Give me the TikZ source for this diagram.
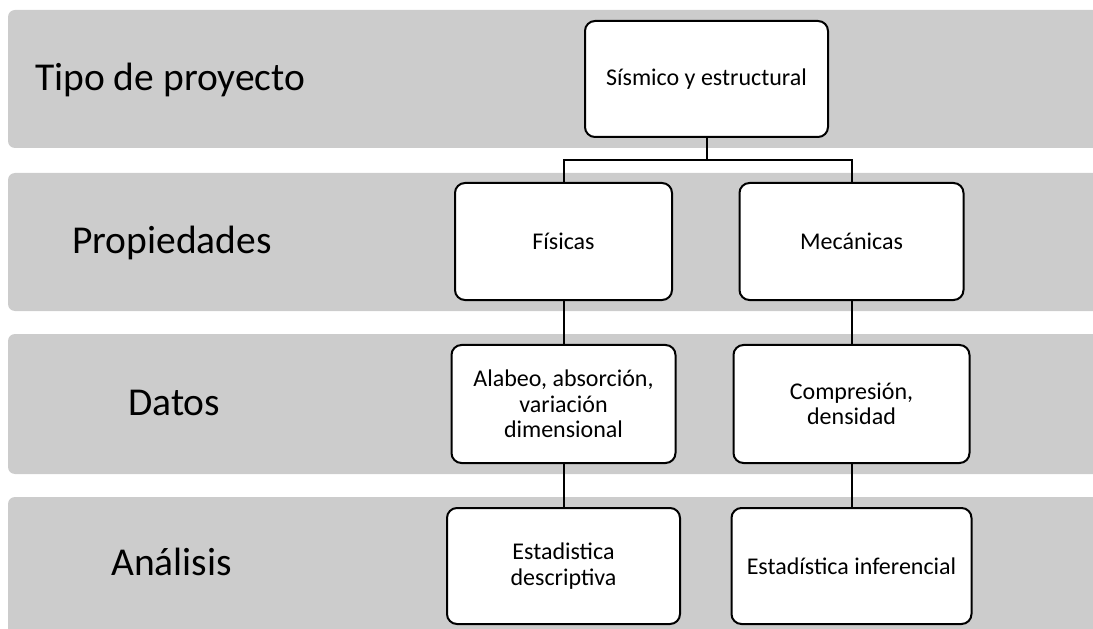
\documentclass[tikz,border=0pt]{standalone}
\usepackage{fontspec}
\setmainfont{Carlito}
\definecolor{bandgray}{HTML}{CCCCCC}
\begin{document}
\begin{tikzpicture}[x=1bp,y=-1bp,
  band/.style={fill=bandgray,draw=none,rounded corners=7bp},
  lvl/.style={anchor=base west,inner sep=0pt,font=\fontsize{39.5bp}{44bp}\selectfont},
  boxnode/.style={draw=black,line width=2bp,fill=white,rounded corners=10bp,
    align=center,inner sep=2bp,font=\fontsize{24bp}{25.5bp}\selectfont},
  link/.style={draw=black,line width=2bp}]
\clip (0,0) rectangle (1093,629);
% bands
\fill[band] (8,10) rectangle (1110,148);
\fill[band] (8,173) rectangle (1110,311);
\fill[band] (8,334) rectangle (1110,474);
\fill[band] (8,497) rectangle (1110,645);
% level labels
\node[lvl] (l1) at (35,91) {Tipo de proyecto};
\node[lvl] (l2) at (72,254) {Propiedades};
\node[lvl] (l3) at (128,415) {Datos};
\node[lvl] (l4) at (111,575) {Análisis};
% boxes
\node[boxnode,minimum width=243bp,minimum height=116bp] (top) at (706.5,79) {Sísmico y estructural};
\node[boxnode,minimum width=217bp,minimum height=117bp] (fis) at (563.5,241.5) {Físicas};
\node[boxnode,minimum width=224bp,minimum height=117bp] (mec) at (851.5,241.5) {Mecánicas};
\node[boxnode,minimum width=224bp,minimum height=118bp] (ala) at (563.5,404) {Alabeo, absorción,\\variación\\dimensional};
\node[boxnode,minimum width=236bp,minimum height=118bp] (com) at (851.5,404) {Compresión,\\densidad};
\node[boxnode,minimum width=233bp,minimum height=116bp] (est) at (563.5,566) {Estadistica\\descriptiva};
\node[boxnode,minimum width=240bp,minimum height=116bp] (inf) at (851.5,566) {Estadística inferencial};
% connectors
\coordinate (j) at (706.5,160);
\draw[link] (top.south) -- (j);
\draw[link] (fis.north) |- (j) -| (mec.north);
\draw[link] (fis.south) -- (ala.north);
\draw[link] (ala.south) -- (est.north);
\draw[link] (mec.south) -- (com.north);
\draw[link] (com.south) -- (inf.north);
\end{tikzpicture}
\end{document}
